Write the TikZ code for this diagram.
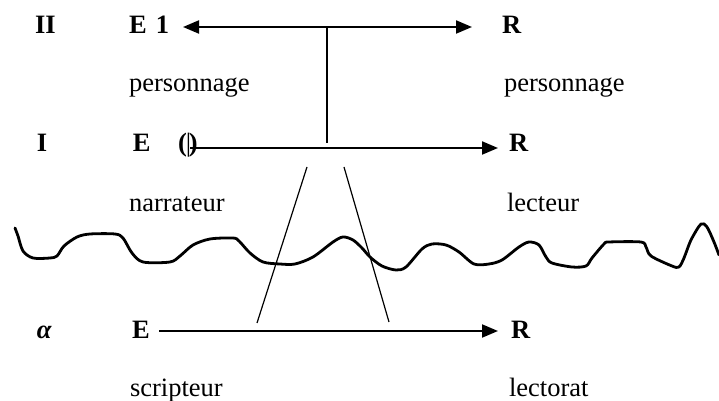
\documentclass[tikz,border=0pt]{standalone}
\usepackage{fontspec}
\setmainfont{Liberation Serif}
\usetikzlibrary{arrows.meta}
\begin{document}
\begin{tikzpicture}[x=0.5pt,y=-0.5pt,
  lbl/.style={anchor=base west,inner sep=0pt,outer sep=0pt,font=\fontsize{13.25}{16}\selectfont},
  blbl/.style={lbl,font=\fontsize{13.25}{16}\selectfont\bfseries},
  arr/.style={line width=1pt,-{Triangle[length=8pt,width=6.5pt]}},
  darr/.style={line width=1pt,{Triangle[length=8pt,width=6.5pt]}-{Triangle[length=8pt,width=6.5pt]}},
  thin line/.style={line width=0.6pt},
  wave/.style={line width=1.4pt,line cap=round,line join=round}]
\useasboundingbox (0,0) rectangle (719,401);
% row II
\node[blbl] (II) at (35,34) {II};
\node[blbl] (E1) at (129,34) {E\kern0.1em{} 1};
\node[blbl] (R2) at (502,34) {R};
\node[lbl] (p1) at (129,92) {personnage};
\node[lbl] (p2) at (504,92) {personnage};
% row I
\node[blbl] (I) at (37,152) {I};
\node[blbl] (E) at (133,152) {E};
\node[blbl] (par) at (178,152) {(\kern-0.04em{\mdseries|}\kern-0.08em)};
\node[blbl] (R1) at (509,152) {R};
\node[lbl] (nar) at (129,212) {narrateur};
\node[lbl] (lec) at (507,212) {lecteur};
% row alpha
\node[blbl] (al) at (37,339) {\itshape α};
\node[blbl] (Ea) at (132,339) {E};
\node[blbl] (Ra) at (511,339) {R};
\node[lbl] (scr) at (130,397) {scripteur};
\node[lbl] (lct) at (509,397) {lectorat};
% coordinates
\coordinate (t1) at (183,27);
\coordinate (t2) at (472,27);
\coordinate (vtop) at (327,27);
\coordinate (vbot) at (327,143);
\coordinate (m1) at (190,148);
\coordinate (m2) at (498,148);
\coordinate (a1) at (159,331);
\coordinate (a2) at (498,331);
\coordinate (lt) at (307,167);
\coordinate (lb) at (257,323);
\coordinate (rt) at (344,167);
\coordinate (rb) at (389,322);
% connectors
\draw[darr] (t1) -- (t2);
\draw[line width=0.9pt] (vtop) -- (vbot);
\draw[arr] (m1) -- (m2);
\draw[arr] (a1) -- (a2);
\draw[thin line] (lt) -- (lb);
\draw[thin line] (rt) -- (rb);
% wavy line
\draw[wave] plot[smooth,tension=0.5] coordinates {
(15,228) (18,236) (23,251) (33,258) (50,258) (57,256) (64,246) (77,237) (90,234) (115,234) (123,238) (132,253) (143,262) (170,262) (180,256) (193,245) (210,239) (233,238) (239,241) (250,253) (263,262) (280,264) (295,264) (313,257) (333,242) (343,237) (353,240) (362,248) (370,257) (382,266) (396,270) (406,267) (422,249) (432,244) (446,245) (459,252) (474,264) (489,264) (502,260) (519,247) (529,242) (539,245) (546,257) (552,263) (572,267) (586,266) (592,258) (604,244) (609,242) (641,242) (646,247) (651,256) (672,266) (679,267) (684,258) (691,240) (701,224) (707,227) (714,242) (719,255)};
\end{tikzpicture}
\end{document}
